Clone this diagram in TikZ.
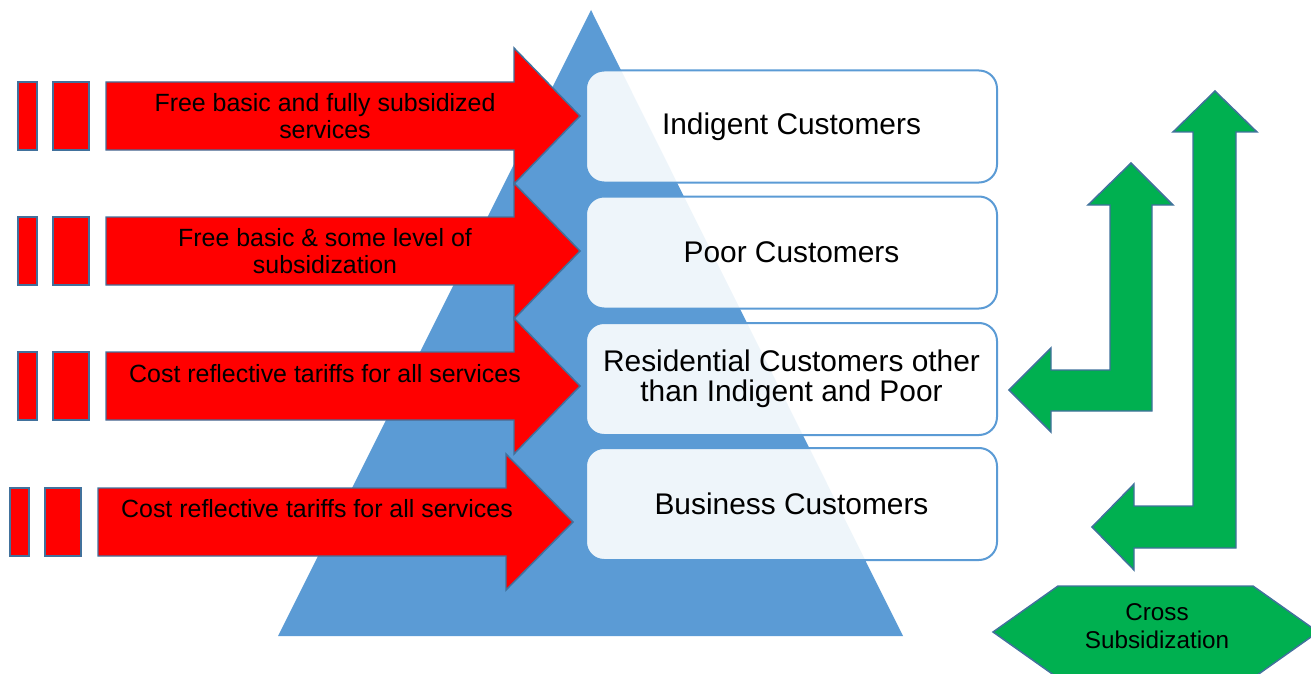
\documentclass[tikz,border=0pt]{standalone}
\usepackage{fontspec}
\setmainfont{Liberation Sans}
\definecolor{tri}{HTML}{5B9BD5}
\definecolor{redf}{HTML}{FF0000}
\definecolor{greenf}{HTML}{00B050}
\definecolor{edgeb}{HTML}{41719C}
\begin{document}
\begin{tikzpicture}[x=0.75pt,y=-0.75pt,
  redshape/.style={fill=redf,draw=edgeb,line width=1.1pt,line join=miter},
  greenshape/.style={fill=greenf,draw=edgeb,line width=1.1pt,line join=miter},
  custbox/.style={draw=tri,line width=1.5pt,fill=white,fill opacity=0.9,text opacity=1,
    rounded corners=13.5pt,minimum width=308.25pt,minimum height=84pt,
    align=center,font=\fontsize{22.4}{22.5}\selectfont},
  redtext/.style={align=center,font=\fontsize{18.7}{20.25}\selectfont,inner sep=0pt},
  greentext/.style={align=center,font=\fontsize{18.2}{21}\selectfont,inner sep=0pt}]
\useasboundingbox (0,0) rectangle (1311,674);
% pyramid
\fill[tri] (591,10) -- (903,636) -- (278,636) -- cycle;
% customer boxes
\node[custbox] (b1) at (791.5,126.5) {Indigent Customers};
\node[custbox] (b2) at (791.5,252.5) {Poor Customers};
\node[custbox] (b3) at (791.5,379) {Residential Customers other\\than Indigent and Poor};
\node[custbox] (b4) at (791.5,504) {Business Customers};
% red arrows
\foreach \L/\H/\T/\m/\ra/\rb/\rc/\rd in {106/514/580/116/18/37/53/89, 106/514/580/251/18/37/53/89, 106/514/580/386/18/37/53/89, 98/506/573/522/10/29/45/81}{
  \draw[redshape] (\L,\m-34) -- (\H,\m-34) -- (\H,\m-68) -- (\T,\m) -- (\H,\m+68) -- (\H,\m+34) -- (\L,\m+34) -- cycle;
  \draw[redshape] (\ra,\m-34) rectangle (\rb,\m+34);
  \draw[redshape] (\rc,\m-34) rectangle (\rd,\m+34);
}
\node[redtext] (t1) at (325,116) {Free basic and fully subsidized\\services};
\node[redtext] (t2) at (325,251) {Free basic \& some level of\\subsidization};
\node[redtext] (t3) at (325,374) {Cost reflective tariffs for all services};
\node[redtext] (t4) at (317,509) {Cost reflective tariffs for all services};
% green bent arrows
\draw[greenshape] (1215,91) -- (1257,132) -- (1236,132) -- (1236,548) -- (1134,548) -- (1134,570) -- (1092,527) -- (1134,484) -- (1134,506) -- (1193,506) -- (1193,132) -- (1173,132) -- cycle;
\draw[greenshape] (1131,163) -- (1173,205) -- (1152,205) -- (1152,411) -- (1051,411) -- (1051,432) -- (1009,390) -- (1051,348) -- (1051,370) -- (1110,370) -- (1110,205) -- (1088,205) -- cycle;
% cross subsidization hexagon
\draw[greenshape] (1058,586) -- (1253,586) -- (1318,632) -- (1253,678) -- (1058,678) -- (993,632) -- cycle;
\node[greentext] (cs) at (1157,626) {Cross\\Subsidization};
\end{tikzpicture}
\end{document}
